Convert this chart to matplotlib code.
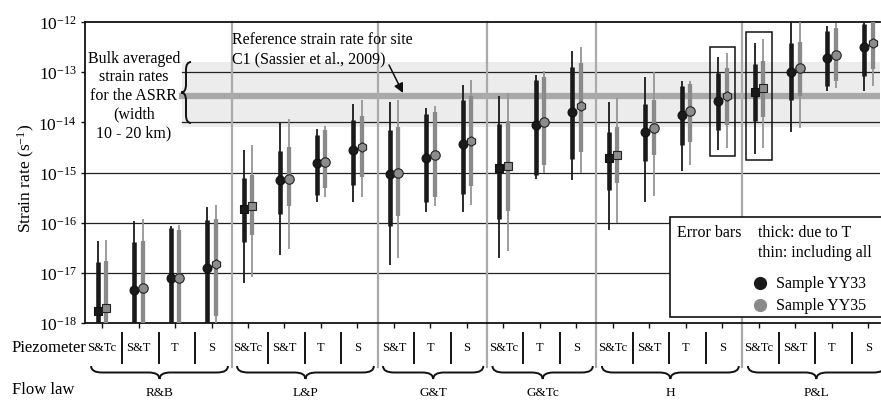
import numpy as np
import matplotlib
matplotlib.use('Agg')
import matplotlib.pyplot as plt
import matplotlib.transforms as mtransforms
from matplotlib.patches import Rectangle, PathPatch
from matplotlib.path import Path

plt.rcParams['font.family'] = ['Liberation Serif', 'DejaVu Serif']
plt.rcParams['mathtext.fontset'] = 'custom'
plt.rcParams['mathtext.rm'] = 'Liberation Serif'
plt.rcParams['mathtext.it'] = 'Liberation Serif:italic'

# ---------------- data ----------------
flow_laws = ['R&B', 'L&P', 'G&T', 'G&Tc', 'H', 'P&L']
piezometers = [['S&Tc', 'S&T', 'T', 'S'],
               ['S&Tc', 'S&T', 'T', 'S'],
               ['S&T', 'T', 'S'],
               ['S&Tc', 'T', 'S'],
               ['S&Tc', 'S&T', 'T', 'S'],
               ['S&Tc', 'S&T', 'T', 'S']]

# Sample YY33 (black)
yy33_rate = [1.74e-18, 4.57e-18, 7.94e-18, 1.26e-17,
             1.86e-16, 7.08e-16, 1.55e-15, 2.82e-15,
             9.33e-16, 1.91e-15, 3.72e-15,
             1.23e-15, 8.91e-15, 1.62e-14,
             1.95e-15, 6.46e-15, 1.41e-14, 2.69e-14,
             3.98e-14, 1.00e-13, 1.91e-13, 3.16e-13]
yy33_thick_lo = [5e-19, 5e-19, 5e-19, 5e-19,
                 4.07e-17, 1.48e-16, 3.63e-16, 5.75e-16,
                 8.71e-17, 2.63e-16, 3.72e-16,
                 1.17e-16, 9.12e-16, 1.82e-15,
                 4.57e-16, 1.66e-15, 3.55e-15, 7.08e-15,
                 1.05e-14, 2.82e-14, 5.37e-14, 8.51e-14]
yy33_thick_hi = [1.66e-17, 4.17e-17, 7.76e-17, 1.15e-16,
                 7.94e-16, 2.63e-15, 5.62e-15, 1.12e-14,
                 7.08e-15, 1.48e-14, 2.82e-14,
                 9.33e-15, 6.92e-14, 1.29e-13,
                 6.31e-15, 2.34e-14, 5.25e-14, 9.55e-14,
                 1.45e-13, 3.80e-13, 6.76e-13, 9.12e-13]
yy33_thin_lo = [5e-19, 5e-19, 5e-19, 5e-19,
                6.31e-18, 2.24e-17, 2.63e-16, 2.57e-16,
                1.45e-17, 1.66e-16, 1.66e-16,
                2.00e-17, 7.41e-16, 7.08e-16,
                7.24e-17, 2.57e-16, 1.05e-15, 2.82e-15,
                2.34e-15, 6.31e-15, 4.27e-14, 4.27e-14]
yy33_thin_hi = [4.27e-17, 1.10e-16, 8.71e-17, 2.04e-16,
                2.82e-15, 9.77e-15, 7.41e-15, 2.34e-14,
                2.51e-14, 1.91e-14, 5.62e-14,
                3.31e-14, 8.71e-14, 2.69e-13,
                2.51e-14, 7.94e-14, 6.76e-14, 2.04e-13,
                3.80e-13, 1.5e-12, 8.51e-13, 1.5e-12]

# Sample YY35 (grey)
yy35_rate = [1.95e-18, 4.90e-18, 7.76e-18, 1.51e-17,
             2.19e-16, 7.41e-16, 1.62e-15, 3.16e-15,
             9.77e-16, 2.19e-15, 4.17e-15,
             1.35e-15, 1.00e-14, 2.09e-14,
             2.19e-15, 7.59e-15, 1.70e-14, 3.31e-14,
             4.79e-14, 1.20e-13, 2.24e-13, 3.80e-13]
yy35_thick_lo = [5e-19, 5e-19, 5e-19, 1.41e-18,
                 5.62e-17, 2.19e-16, 5.01e-16, 8.32e-16,
                 1.35e-16, 3.24e-16, 5.50e-16,
                 1.74e-16, 1.38e-15, 2.51e-15,
                 6.17e-16, 2.24e-15, 3.98e-15, 8.91e-15,
                 1.29e-14, 3.39e-14, 6.76e-14, 1.15e-13]
yy35_thick_hi = [1.74e-17, 4.27e-17, 7.24e-17, 1.17e-16,
                 8.91e-16, 3.16e-15, 7.08e-15, 1.32e-14,
                 7.94e-15, 1.62e-14, 3.31e-14,
                 1.05e-14, 7.94e-14, 1.51e-13,
                 8.13e-15, 2.82e-14, 5.75e-14, 1.20e-13,
                 1.66e-13, 4.07e-13, 7.76e-13, 1.2e-12]
yy35_thin_lo = [5e-19, 5e-19, 5e-19, 5e-19,
                8.32e-18, 2.95e-17, 3.31e-16, 3.31e-16,
                1.95e-17, 2.14e-16, 2.29e-16,
                2.75e-17, 9.77e-16, 1.00e-15,
                9.77e-17, 3.39e-16, 1.41e-15, 3.02e-15,
                3.02e-15, 7.76e-15, 4.79e-14, 5.37e-14]
yy35_thin_hi = [4.57e-17, 1.17e-16, 9.12e-17, 2.24e-16,
                3.55e-15, 1.17e-14, 8.51e-15, 2.82e-14,
                2.82e-14, 2.14e-14, 7.08e-14,
                3.80e-14, 1.05e-13, 3.24e-13,
                3.02e-14, 1.02e-13, 6.76e-14, 2.40e-13,
                4.68e-13, 1.5e-12, 9.77e-13, 1.5e-12]

bulk_band = [8e-15, 1.6e-13]      # bulk averaged strain rates ASRR
reference_rate = 3.3e-14          # Sassier et al. 2009, site C1
boxed_columns = [17, 18]          # highlighted columns
yticks_exp = [-18, -17, -16, -15, -14, -13, -12]

# ---------------- figure ----------------
W, H = 881, 406
fig = plt.figure(figsize=(W / 100, H / 100), dpi=100)
ax = fig.add_axes([85 / W, 1 - 324 / H, 795 / W, 301 / H])
pxT = mtransforms.Affine2D().scale(1 / W, -1 / H).translate(0, 1) + fig.transFigure
xpxT = mtransforms.blended_transform_factory(ax.transData, pxT)

n = sum(len(p) for p in piezometers)
cols = np.arange(n)
ax.set_yscale('log')
ax.set_ylim(1e-18, 1e-12)
ax.set_xlim(-0.467, 21.32)

BLACK = '#1a1a1a'
GREY = '#8a8a8a'

# band + reference line
ax.axhspan(bulk_band[0], bulk_band[1], xmin=0.122, xmax=1, color='#ececec', lw=0, zorder=0.5)
ax.axhline(reference_rate, xmin=0.122, xmax=1, color='#a9a9a9', lw=4.5, zorder=0.6)

# grid lines
for e in [-17, -16, -15, -14, -13]:
    xmin = 0.122 if e >= -14 else 0
    ax.axhline(10.0 ** e, xmin=xmin, xmax=1, color='#222222', lw=0.9, zorder=1)

# group separators
starts = np.cumsum([0] + [len(p) for p in piezometers])
for g in range(len(piezometers) - 1):
    xs = starts[g + 1] - 1 + 0.55
    ax.plot([xs, xs], [23, 368], transform=xpxT, color='#aaaaaa', lw=1.6,
            clip_on=False, zorder=1.5)

# bars and markers
off = 0.119
flat_piezo = [p for grp in piezometers for p in grp]
for i, x in enumerate(cols):
    xb, xg = x - off, x + off
    ax.vlines(xb, yy33_thin_lo[i], yy33_thin_hi[i], color=BLACK, lw=1.3, zorder=3)
    ax.vlines(xb, yy33_thick_lo[i], yy33_thick_hi[i], color=BLACK, lw=3.3, zorder=3)
    ax.vlines(xg, yy35_thin_lo[i], yy35_thin_hi[i], color='#959595', lw=1.3, zorder=3)
    ax.vlines(xg, yy35_thick_lo[i], yy35_thick_hi[i], color=GREY, lw=3.1, zorder=3)
    p = flat_piezo[i]
    if p == 'S&Tc':
        mb, mg, sb, sg = 's', 's', 5.4, 5.4
    else:
        mb, mg, sb, sg = 'o', ('h' if p == 'S' else 'o'), 6.4, 6.8
    ax.plot(xb, yy33_rate[i], marker=mb, ms=sb, mfc=BLACK, mec='#111111', mew=0.8, zorder=5)
    ax.plot(xg, yy35_rate[i], marker=mg, ms=sg, mfc='#8c8c8c', mec='#222222', mew=0.8, zorder=5)

# highlight boxes
for c in boxed_columns:
    lo = min(yy33_thin_lo[c], yy35_thin_lo[c]) / 10 ** 0.13
    hi = max(yy33_thin_hi[c], yy35_thin_hi[c]) * 10 ** 0.13
    ax.add_patch(Rectangle((c - 0.35, lo), 0.70, hi - lo, fill=False,
                           ec='#111111', lw=1.1, zorder=4))

# axes styling
for s in ['top', 'left', 'bottom']:
    ax.spines[s].set_linewidth(1.3)
    ax.spines[s].set_color('#111111')
ax.spines['right'].set_visible(False)
ax.set_xticks(cols)
ax.set_xticklabels([])
ax.tick_params(axis='x', direction='out', length=3.5, width=1.0, color='#111111')
ax.set_yticks([10.0 ** e for e in yticks_exp])
ax.set_yticklabels([r'$\mathregular{10^{%d}}$' % e for e in yticks_exp], fontsize=12.5)
ax.yaxis.set_minor_locator(matplotlib.ticker.NullLocator())
ax.tick_params(axis='y', direction='out', length=3, width=1.0, pad=3, color='#111111')

fig.text(26 / W, 1 - 178 / H, r'Strain rate (s$^{\mathregular{-1}}$)', rotation=90,
         ha='center', va='center', fontsize=12.5)

# bulk text and brace
fig.text(134 / W, 1 - 96 / H, 'Bulk averaged\nstrain rates\nfor the ASRR\n(width\n10 - 20 km)',
         ha='center', va='center', multialignment='center', fontsize=11.5, linespacing=1.22)


def vbrace(xr, ya, yb, d, q, transform, lw=1.4):
    xm = xr - d / 2
    ym = (ya + yb) / 2
    verts = [(xr, ya), (xm, ya), (xm, ya + q), (xm, ym - q), (xm, ym), (xr - d, ym),
             (xm, ym), (xm, ym + q), (xm, yb - q), (xm, yb), (xr, yb)]
    codes = [Path.MOVETO, Path.CURVE3, Path.CURVE3, Path.LINETO, Path.CURVE3, Path.CURVE3,
             Path.CURVE3, Path.CURVE3, Path.LINETO, Path.CURVE3, Path.CURVE3]
    fig.add_artist(PathPatch(Path(verts, codes), fill=False, lw=lw, ec='#111111',
                             transform=transform, clip_on=False, zorder=7))


def hbrace(xa, xb, yt, d, q, transform, lw=1.4):
    ym = yt + d / 2
    xm = (xa + xb) / 2
    verts = [(xa, yt), (xa, ym), (xa + q, ym), (xm - q, ym), (xm, ym), (xm, yt + d),
             (xm, ym), (xm + q, ym), (xb - q, ym), (xb, ym), (xb, yt)]
    codes = [Path.MOVETO, Path.CURVE3, Path.CURVE3, Path.LINETO, Path.CURVE3, Path.CURVE3,
             Path.CURVE3, Path.CURVE3, Path.LINETO, Path.CURVE3, Path.CURVE3]
    fig.add_artist(PathPatch(Path(verts, codes), fill=False, lw=lw, ec='#111111',
                             transform=transform, clip_on=False, zorder=7))


vbrace(191, 63, 124, 10, 8, pxT)

# reference annotation
fig.text(232 / W, 1 - 50 / H, 'Reference strain rate for site\nC1 (Sassier et al., 2009)',
         ha='left', va='center', fontsize=11.5, linespacing=1.3)
ax.annotate('', xy=(403, 94), xycoords=pxT, xytext=(389, 66), textcoords=pxT,
            arrowprops=dict(arrowstyle='-|>', color='#111111', lw=1.1, mutation_scale=14,
                            shrinkA=0, shrinkB=0), zorder=8)

# legend
ax.add_artist(Rectangle((670, 217.7), 215, 100, transform=pxT, fc='white', ec='#111111',
                        lw=1.2, clip_on=False, zorder=6))
fig.text(677 / W, 1 - 233 / H, 'Error bars', ha='left', va='center', fontsize=11.5, zorder=7)
fig.text(758 / W, 1 - 233 / H, 'thick: due to T', ha='left', va='center', fontsize=11.5, zorder=7)
fig.text(758 / W, 1 - 253 / H, 'thin: including all', ha='left', va='center', fontsize=11.5, zorder=7)
for yy, col, lab in [(284, BLACK, 'Sample YY33'), (305.5, GREY, 'Sample YY35')]:
    fig.add_artist(plt.Line2D([760], [yy], transform=pxT, marker='o', ms=8.5, mfc=col,
                              mec=col, ls='none', zorder=7))
    fig.text(776 / W, 1 - yy / H, lab, ha='left', va='center', fontsize=11.5, zorder=7)

# bottom labels
fig.text(12 / W, 1 - 348 / H, 'Piezometer', ha='left', va='center', fontsize=12)
fig.text(12 / W, 1 - 390 / H, 'Flow law', ha='left', va='center', fontsize=12)
for g, grp in enumerate(piezometers):
    s = starts[g]
    for j, p in enumerate(grp):
        ax.text(s + j, 348, p, transform=xpxT, ha='center', va='center', fontsize=9,
                clip_on=False)
        if j < len(grp) - 1:
            xs = s + j + 0.55
            ax.plot([xs, xs], [334, 364], transform=xpxT, color='#111111', lw=1.4,
                    clip_on=False)
    xa, xb = s - 0.3, s + len(grp) - 1 + 0.45
    hbrace(xa, xb, 367, 13, 0.3, xpxT)
    ax.text((xa + xb) / 2, 393, flow_laws[g], transform=xpxT, ha='center', va='center',
            fontsize=9.5, clip_on=False)

fig.savefig('out.png', dpi=100)
